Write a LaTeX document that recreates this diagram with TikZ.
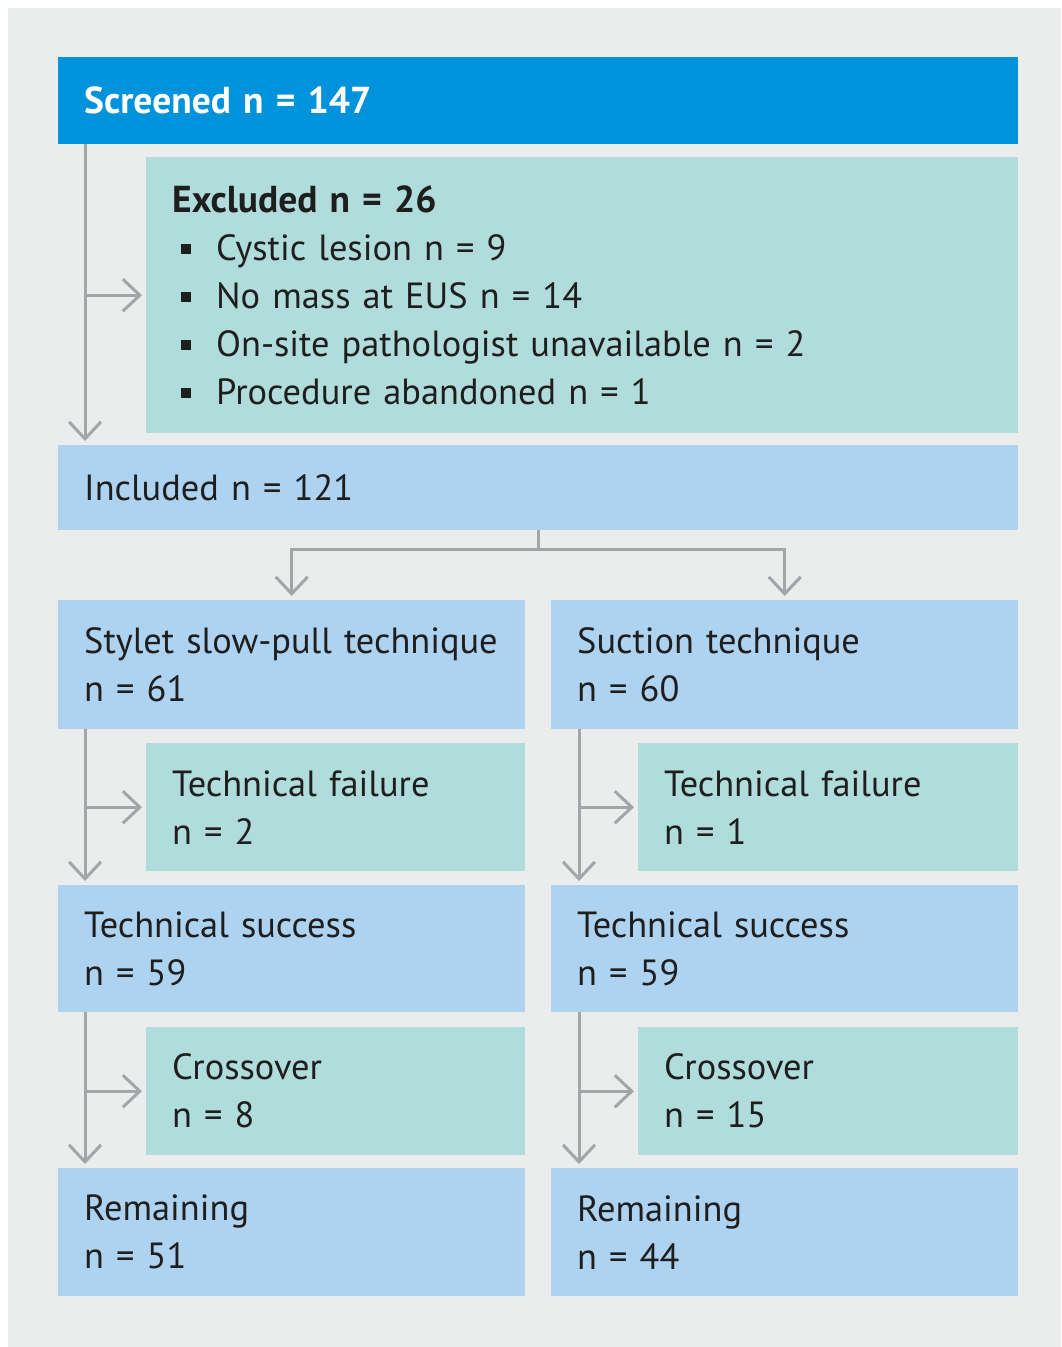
\documentclass[tikz,border=0pt]{standalone}
\usepackage{fontspec}
\setmainfont{PT Sans}
\usetikzlibrary{arrows.meta,calc}
\definecolor{bgc}{HTML}{EBECEC}
\definecolor{darkb}{HTML}{0093DC}
\definecolor{lightb}{HTML}{ADD3F0}
\definecolor{tealc}{HTML}{B0DDDB}
\definecolor{arrc}{HTML}{A3A5A8}
\definecolor{txtc}{HTML}{1E1E1E}
\newcommand{\bul}{\makebox[44pt][l]{\hspace{9pt}\rule[6pt]{10pt}{10pt}}}
\newcommand{\bigb}[1]{{\fontsize{37.5}{48}\selectfont\bfseries #1}}
\tikzset{
  box/.style args={#1/#2}{rectangle, anchor=north west, inner xsep=26pt, inner ysep=0pt,
    minimum width=#1pt, minimum height=#2pt, text width=#1pt-52pt, align=left,
    font=\fontsize{36.4}{48}\selectfont, text=txtc},
  topbox/.style={box=960/87, fill=darkb, text=white},
  incbox/.style={box=#1, fill=lightb},
  exbox/.style={box=#1, fill=tealc},
  arr/.style={draw=arrc, line width=3pt, -{Straight Barb[length=17pt,width=32pt,line width=3pt]}, shorten >=4pt},
  ln/.style={draw=arrc, line width=3pt}
}
\begin{document}
\begin{tikzpicture}[x=1pt,y=-1pt]
\useasboundingbox (0,0) rectangle (1061,1347);
\fill[bgc] (8,8) rectangle (1061,1347);
\node[topbox] (scr) at (58,57) {\bigb{Screened n = 147}};
\node[exbox=872/276] (exc) at (146,157) {\bigb{Excluded n = 26}\\
\bul Cystic lesion n = 9\\
\bul No mass at EUS n = 14\\
\bul On-site pathologist unavailable n = 2\\
\bul Procedure abandoned n = 1};
\node[incbox=960/85] (inc) at (58,445) {Included n = 121};
\node[incbox=467/129] (sty) at (58,600) {Stylet slow-pull technique\\n = 61};
\node[incbox=467/129] (suc) at (551,600) {Suction technique\\n = 60};
\node[exbox=379/128] (tfl) at (146,743) {Technical failure\\n = 2};
\node[exbox=380/128] (tfr) at (638,743) {Technical failure\\n = 1};
\node[incbox=467/127] (tsl) at (58,885) {Technical success\\n = 59};
\node[incbox=467/127] (tsr) at (551,885) {Technical success\\n = 59};
\node[exbox=379/128] (col) at (146,1027) {Crossover\\n = 8};
\node[exbox=380/128] (cor) at (638,1027) {Crossover\\n = 15};
\node[incbox=467/128] (rel) at (58,1168) {Remaining\\n = 51};
\node[incbox=467/128] (rer) at (551,1168) {Remaining\\n = 44};
% connectors
\coordinate (a0) at ($(scr.south west)+(27,0)$);
\draw[arr] (a0) -- (a0 |- inc.north);
\draw[arr] (a0 |- exc.west) -- (exc.west);
\coordinate (sp) at ($(inc.south)+(0,19)$);
\draw[ln] (inc.south) -- (sp);
\draw[arr] (sp) -| (sty.north);
\draw[arr] (sp) -| (suc.north);
\coordinate (b0) at ($(sty.south west)+(27,0)$);
\draw[arr] (b0) -- (b0 |- tsl.north);
\draw[arr] (b0 |- tfl.west) -- (tfl.west);
\coordinate (c0) at ($(suc.south west)+(28,0)$);
\draw[arr] (c0) -- (c0 |- tsr.north);
\draw[arr] (c0 |- tfr.west) -- (tfr.west);
\coordinate (d0) at ($(tsl.south west)+(27,0)$);
\draw[arr] (d0) -- (d0 |- rel.north);
\draw[arr] (d0 |- col.west) -- (col.west);
\coordinate (e0) at ($(tsr.south west)+(28,0)$);
\draw[arr] (e0) -- (e0 |- rer.north);
\draw[arr] (e0 |- cor.west) -- (cor.west);
\end{tikzpicture}
\end{document}
